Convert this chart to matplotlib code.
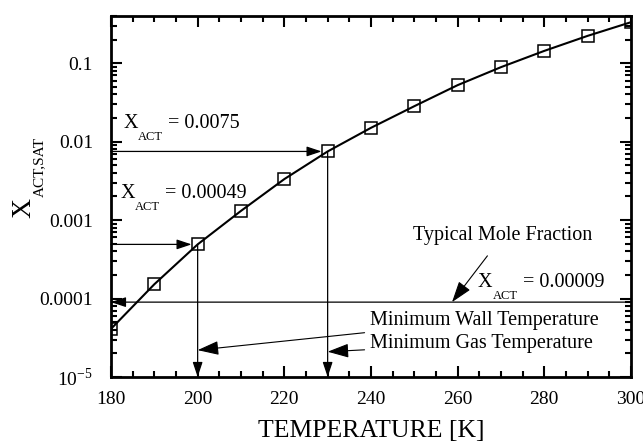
import numpy as np
import matplotlib
matplotlib.use("Agg")
from matplotlib import pyplot as plt
from matplotlib.ticker import FixedLocator, FixedFormatter, MultipleLocator, LogLocator, NullFormatter

plt.rcParams['font.family'] = ['Liberation Serif', 'DejaVu Serif']
plt.rcParams['mathtext.fontset'] = 'custom'
plt.rcParams['mathtext.rm'] = 'Liberation Serif'

# saturation mole fraction vs temperature
temperature = [180, 190, 200, 210, 220, 230, 240, 250, 260, 270, 280, 290, 300]
x_act_sat = [4.1e-5, 1.52e-4, 4.9e-4, 1.31e-3, 3.33e-3, 7.5e-3, 0.0150,
             0.0283, 0.0525, 0.089, 0.1435, 0.223, 0.333]

# marked operating points
wall_temp = 200
wall_x = 0.00049
gas_temp = 230
gas_x = 0.0075
typical_x = 0.00009

y_ticks = [1e-5, 1e-4, 1e-3, 1e-2, 1e-1]
y_tick_labels = [r'$10^{-5}$', '0.0001', '0.001', '0.01', '0.1']


def x_label(ax, x, y, sub, rest, size=14.5, subsize=9):
    """Write X with a real subscript followed by the rest of the line."""
    t = ax.text(x, y, 'X', fontsize=size, ha='left', va='baseline')
    s = ax.annotate(sub, xy=(1, 0), xycoords=t, xytext=(0.3, 1.5),
                    textcoords='offset points', fontsize=subsize,
                    ha='left', va='top')
    ax.annotate(rest, xy=(1, 0), xycoords=(s, t), xytext=(0, 0),
                textcoords='offset points', fontsize=size, ha='left', va='bottom')


fig = plt.figure(figsize=(6.43, 4.43), dpi=100)
ax = fig.add_axes([0.1726, 0.149, 0.8087, 0.815])

ax.plot(temperature, x_act_sat, color='black', lw=1.5, marker='s', ms=9,
        mfc='none', mec='black', mew=1.1)

ax.set_yscale('log')
ax.set_xlim(180, 300)
ax.set_ylim(1e-5, 0.4)

ax.xaxis.set_major_locator(MultipleLocator(20))
ax.xaxis.set_minor_locator(MultipleLocator(5))
ax.yaxis.set_major_locator(FixedLocator(y_ticks))
ax.yaxis.set_major_formatter(FixedFormatter(y_tick_labels))
ax.yaxis.set_minor_locator(LogLocator(base=10, subs=np.arange(2, 10)))
ax.yaxis.set_minor_formatter(NullFormatter())

ax.tick_params(which='both', direction='in', top=True, right=True, width=1.5)
ax.tick_params(which='major', length=8, labelsize=14)
ax.tick_params(axis='x', which='major', pad=10)
ax.tick_params(axis='y', which='major', pad=13)
ax.tick_params(which='minor', length=4)
for s in ax.spines.values():
    s.set_linewidth(2)

ax.set_xlabel('TEMPERATURE [K]', fontsize=18.5, labelpad=9)

# rotated y label with a small, low subscript
fig.text(24 / 643, 1 - 207.5 / 443, 'X', fontsize=20, rotation=90,
         ha='center', va='center')
fig.text(39.5 / 643, 1 - 166.5 / 443, 'ACT,SAT', fontsize=11, rotation=90,
         ha='center', va='center')

arrow = dict(arrowstyle='-|>,head_length=0.9,head_width=0.3', color='black',
             lw=0.9, shrinkA=0, shrinkB=0)

# gas temperature lookup
ax.annotate('', xy=(gas_temp - 1.4, gas_x), xytext=(180, gas_x), arrowprops=arrow)
ax.annotate('', xy=(gas_temp, 1e-5), xytext=(gas_temp, gas_x), arrowprops=arrow)
x_label(ax, 182.8, 0.01486, 'ACT', ' = 0.0075')

# wall temperature lookup
ax.annotate('', xy=(wall_temp - 1.4, wall_x), xytext=(180, wall_x), arrowprops=arrow)
ax.annotate('', xy=(wall_temp, 1e-5), xytext=(wall_temp, wall_x), arrowprops=arrow)
x_label(ax, 182.1, 0.0019, 'ACT', ' = 0.00049')

# typical mole fraction level
ax.annotate('', xy=(180, typical_x), xytext=(300, typical_x), arrowprops=arrow)
x_label(ax, 264.7, 1.40e-4, 'ACT', ' = 0.00009')
ax.annotate('Typical Mole Fraction', xy=(258.7, typical_x), xytext=(270.4, 6.3e-4),
            fontsize=14.5, ha='center', va='center',
            arrowprops=dict(arrowstyle='-|>,head_length=0.9,head_width=0.3',
                            color='black', lw=0.8, shrinkA=7, shrinkB=0))

# minimum temperature callouts
ax.annotate('Minimum Wall Temperature', xy=(wall_temp, 2.2e-5), xytext=(239.8, 5.3e-5),
            fontsize=14.5, ha='left', va='center',
            arrowprops=dict(arrowstyle='-|>,head_length=0.9,head_width=0.3',
                            color='black', lw=0.8, shrinkA=2, shrinkB=0))
ax.annotate('Minimum Gas Temperature', xy=(gas_temp, 2.1e-5), xytext=(239.8, 2.65e-5),
            fontsize=14.5, ha='left', va='center',
            arrowprops=dict(arrowstyle='-|>,head_length=0.9,head_width=0.3',
                            color='black', lw=0.8, shrinkA=2, shrinkB=0))

fig.savefig('out.png', dpi=100)
